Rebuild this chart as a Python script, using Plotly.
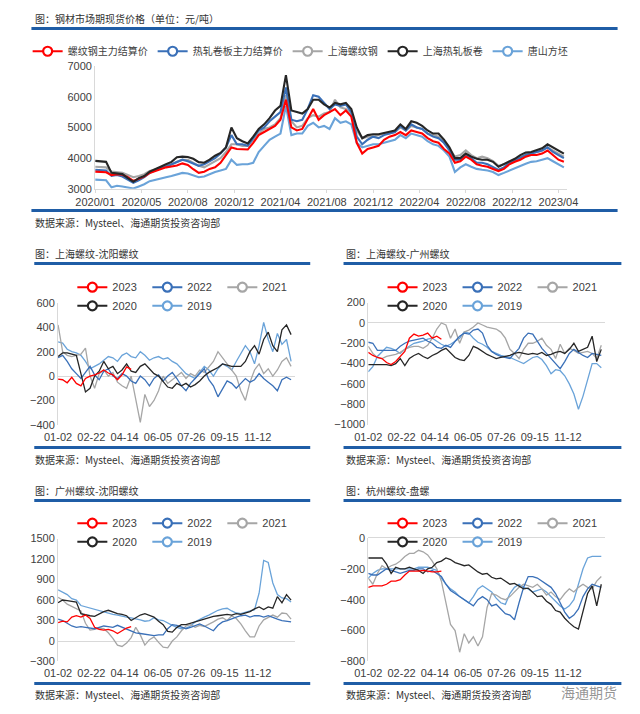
import plotly.graph_objects as go

W, H = 640, 714

# ------------------------------------------------------------------ data
# Top chart: samples every 2 weeks from 2020/01/02 (x unit = week)
TOP_STEP_WEEKS = 2
TOP_TICK_WEEKS = 17
top_tick_labels = ["2020/01", "2020/05", "2020/08", "2020/12", "2021/04", "2021/08",
                   "2021/12", "2022/04", "2022/08", "2022/12", "2023/04"]

rb_main_settle = [
    3560, 3560, 3540, 3450, 3480, 3460, 3380, 3260, 3330, 3400,
    3520, 3580, 3650, 3700, 3730, 3760, 3830, 3780, 3640, 3520,
    3560, 3650, 3700, 3850, 4100, 4350, 4300, 4300, 4280, 4500,
    4750, 4850, 4950, 5050, 5250, 5900, 5000, 4900, 4950, 5300,
    5600, 5250, 5400, 5500, 5600, 5400, 5550, 5350, 4500, 4150,
    4300, 4350, 4400, 4600, 4700, 4750, 4850, 4750, 4900, 4850,
    4800, 4650, 4550, 4500, 4300, 4150, 3850, 3900, 4050, 3950,
    3800, 3750, 3720, 3650, 3580, 3650, 3800, 3880, 3950, 4050,
    4100, 4100, 4150, 4250, 4100, 3950, 3880]
hc_main_settle = [
    3620, 3620, 3600, 3420, 3450, 3400, 3300, 3200, 3280, 3380,
    3520, 3600, 3680, 3720, 3800, 3880, 3950, 3900, 3820, 3750,
    3800, 3900, 4000, 4150, 4350, 4750, 4450, 4450, 4400, 4650,
    4900, 5000, 5200, 5350, 5500, 6300, 5250, 5200, 5250, 5600,
    6050, 6000, 5800, 5600, 5750, 5700, 5750, 5500, 4700, 4450,
    4600, 4700, 4650, 4750, 4800, 4850, 5050, 4900, 5100, 5000,
    4950, 4800, 4700, 4650, 4500, 4250, 3950, 3950, 4100, 4000,
    3850, 3850, 3800, 3720, 3620, 3700, 3850, 3920, 4000, 4100,
    4150, 4200, 4250, 4350, 4200, 4100, 4000]
sh_rebar = [
    3720, 3720, 3700, 3560, 3530, 3520, 3450, 3380, 3420, 3480,
    3580, 3620, 3680, 3750, 3800, 3880, 3950, 3950, 3850, 3750,
    3700, 3800, 3900, 4000, 4200, 4450, 4450, 4400, 4400, 4600,
    4800, 4950, 5000, 5100, 5300, 6050, 5200, 5000, 5050, 5300,
    5400, 5350, 5450, 5500, 5900, 5650, 5600, 5450, 4900, 4650,
    4700, 4700, 4750, 4800, 4800, 4850, 5000, 4900, 5050, 5000,
    4950, 4800, 4750, 4700, 4500, 4300, 4050, 4100, 4250, 4100,
    4000, 4050, 4000, 3900, 3750, 3800, 3900, 3950, 4050, 4100,
    4150, 4200, 4250, 4350, 4250, 4150, 4050]
sh_hrc = [
    3910, 3900, 3880, 3520, 3510, 3480, 3350, 3230, 3350, 3420,
    3560, 3650, 3720, 3800, 3880, 4030, 4050, 4040, 3980, 3870,
    3850, 3950, 4080, 4170, 4350, 5000, 4650, 4550, 4480, 4700,
    4950, 5100, 5300, 5550, 5700, 6700, 5550, 5500, 5450, 5600,
    5900, 5900, 5750, 5650, 5800, 5750, 5800, 5600, 5000, 4650,
    4750, 4780, 4780, 4820, 4850, 4900, 5100, 4950, 5200, 5150,
    5050, 4900, 4800, 4800, 4600, 4350, 4000, 4000, 4150, 4050,
    3980, 3950, 3950, 3880, 3720, 3800, 3900, 3980, 4100, 4180,
    4200, 4250, 4320, 4450, 4350, 4250, 4150]
ts_billet = [
    3300, 3300, 3280, 3050, 3100, 3080, 3050, 3010, 3080, 3150,
    3250, 3300, 3350, 3380, 3420, 3480, 3520, 3500, 3430, 3380,
    3400, 3480, 3550, 3600, 3650, 3950, 3780, 3800, 3800, 3850,
    4200, 4400, 4600, 4700, 4800, 5700, 4750, 4800, 4800, 5050,
    5150, 5000, 5050, 4950, 5300, 5150, 5200, 5100, 4500, 4350,
    4400, 4450, 4450, 4500, 4550, 4600, 4750, 4650, 4800, 4750,
    4700, 4550, 4450, 4400, 4250, 4050, 3550, 3700, 3800, 3720,
    3650, 3620, 3600, 3550, 3450, 3520, 3600, 3680, 3750, 3820,
    3880, 3900, 3950, 4000, 3900, 3800, 3700]

# Seasonal panels: weekly samples from 01-02 (x unit = day)
SEASON_STEP_DAYS = 7
SEASON_TICK_DAYS = 51
season_tick_labels = ["01-02", "02-22", "04-14", "06-05", "07-26", "09-15", "11-12"]
years = ["2023", "2022", "2021", "2020", "2019"]

# 上海螺纹-沈阳螺纹
p1_2023 = [-25, -30, -55, -10, -60, -80, -20, 0, 10, 25, 50, 25, 10, -30, 10, 75, 55]
p1_2022 = [150, 170, 120, 60, 20, -20, 30, 80, 10, -30,
           40, 60, 0, -20, 20, 0, -40, -60, 0, -30,
           -80, -20, 10, -40, 0, 30, -20, -80, -120, -60,
           -20, 20, 60, -30, -80, -170, -100, -40, -60, -100,
           -60, -20, -50, -30, 20, -20, -50, -80, -120, -30,
           -10, -30]
p1_2021 = [420, 200, 170, 160, 170, 180, 230, 0, -100, 20,
           50, 0, 30, -50, -80, -100, 0, -200, -380, -150,
           -250, -200, -120, 0, -60, -30, 0, 30, -20, 20,
           0, 50, 30, 80, 120, 200, 150, 100, 60, 0,
           -120, -200, -50, 50, 100, 20, 60, 0, 50, 120,
           150, 80]
p1_2020 = [160, 190, 190, 180, 170, 20, -130, -100, 0, 40,
           120, 60, 80, 20, 50, 100, 40, 30, 80, 100,
           60, 20, 0, -50, -90, -100, -60, -80, -60, -90,
           -70, -40, 0, 30, 50, 70, 100, 90, 80, 80,
           80, 120, 200, 250, 180, 300, 360, 250, 200, 380,
           420, 340]
p1_2019 = [280, 270, 220, 200, 190, 170, 120, 60, 80, 100,
           130, 160, 150, 120, 170, 190, 160, 150, 200, 170,
           130, 150, 160, 140, 150, 120, 100, 60, 20, 0,
           -20, 30, 80, 50, 0, 60, 100, 80, 50, 120,
           180, 250, 200, 100, 250, 440, 300, 200, 350, 260,
           300, 120]

# 上海螺纹-广州螺纹
p2_2023 = [-290, -320, -340, -350, -390, -410, -380, -330, -280, -150,
           -110, -130, -120, -100, -150, -130, -160]
p2_2022 = [-190, -200, -270, -270, -270, -270, -270, -230, -200, -180,
           -170, -160, -150, -180, -200, -240, -250, -220, -240, -180,
           -130, -100, -110, -70, -60, -100, -220, -280, -310, -330,
           -340, -350, -300, -250, -150, -100, -110, -180, -250, -300,
           -350, -400, -450, -380, -300, -260, -290, -320, -340, -300,
           -310, -320]
p2_2021 = [-230, -300, -340, -350, -330, -320, -310, -290, -260, -240,
           -230, -230, -250, -220, -150, -60, 0, -20, -150, -60,
           -200, -90, -70, -40, 0, -20, -40, -50, -60, -90,
           -150, -260, -300, -350, -260, -200, -200, -180, -150, -220,
           -260, -350, -210, -300, -250, -270, -300, -290, -280, -300,
           -350, -220]
p2_2020 = [-410, -410, -410, -410, -410, -420, -400, -350, -420, -350,
           -320, -300, -330, -350, -320, -300, -270, -250, -300, -340,
           -360, -370, -320, -230, -250, -280, -310, -330, -350, -340,
           -330, -320, -300, -290, -300, -310, -300, -310, -290, -320,
           -310, -290, -280, -300, -260, -200, -280, -260, -240, -130,
           -380, -260]
p2_2019 = [-480, -430, -330, -280, -240, -250, -270, -300, -260, -230,
           -200, -190, -180, -160, -150, -180, -210, -230, -210, -180,
           -150, -90, -100, -150, -190, -210, -240, -280, -300, -320,
           -330, -340, -360, -380, -400, -370, -340, -330, -360, -420,
           -500, -460, -470, -520, -600, -700, -850, -720, -550, -400,
           -400, -440]

# 广州螺纹-沈阳螺纹
p3_2023 = [270, 290, 280, 350, 370, 350, 380, 330, 200, 170, 160, 170, 150, 110, 150, 190, 210]
p3_2022 = [320, 300, 260, 220, 200, 210, 200, 190, 180, 200,
           220, 210, 200, 230, 200, 170, 150, 120, 110, 100,
           90, 80, 90, 90, 180, 240, 230, 200, 180, 200,
           230, 250, 220, 180, 150, 230, 280, 300, 330, 350,
           370, 380, 350, 370, 370, 350, 370, 340, 320, 300,
           290, 280]
p3_2021 = [640, 600, 540, 510, 480, 440, 260, 160, 170, 190,
           180, 120, 40, -60, -80, -30, 50, 200, 90, -60,
           20, 60, -20, -90, -100, 0, 60, 150, 220, 240,
           200, 230, 210, 240, 280, 320, 340, 300, 370, 330,
           250, 150, 60, 60, 220, 310, 350, 380, 350, 410,
           400, 320]
p3_2020 = [560, 600, 590, 580, 570, 400, 380, 370, 360, 400,
           430, 450, 420, 400, 390, 370, 300, 340, 380, 400,
           380, 350, 290, 240, 140, 130, 200, 240, 240, 260,
           290, 310, 330, 340, 360, 370, 380, 390, 380, 400,
           390, 410, 430, 470, 500, 460, 500, 480, 650, 560,
           680, 600]
p3_2019 = [750, 720, 680, 620, 600, 520, 500, 480, 460, 440,
           420, 400, 390, 380, 360, 350, 340, 330, 310, 290,
           300, 340, 310, 300, 260, 230, 200, 180, 190, 220,
           280, 320, 350, 380, 420, 450, 470, 480, 440, 410,
           400, 420, 440, 460, 700, 1180, 1150, 850, 680, 630,
           620, 570]

# 杭州螺纹-盘螺
p4_2023 = [-320, -310, -310, -310, -300, -280, -280, -270, -240, -215,
           -215, -215, -210, -215, -220, -220, -215]
p4_2022 = [-230, -240, -240, -220, -200, -210, -220, -230, -220, -210,
           -210, -200, -200, -220, -210, -230, -250, -300, -340, -360,
           -380, -400, -420, -440, -400, -380, -400, -440, -430, -460,
           -490, -500, -530, -420, -320, -250, -250, -260, -280, -300,
           -320, -360, -420, -480, -520, -500, -460, -380, -330, -300,
           -310, -320]
p4_2021 = [-260, -300, -230, -180, -200, -180, -170, -150, -120, -100,
           -100, -80, -90, -110, -150, -200, -280, -420, -560, -600,
           -740, -620, -680, -640, -700, -640, -450, -360, -370, -390,
           -400, -380, -350, -320, -300, -310, -320, -300, -330, -370,
           -350, -380, -400, -360, -330, -350, -320, -300, -320, -330,
           -280, -250]
p4_2020 = [-130, -130, -130, -130, -170, -230, -190, -200, -200, -190,
           -200, -210, -230, -200, -190, -160, -150, -130, -140, -160,
           -170, -180, -175, -200, -220, -235, -230, -255, -265, -260,
           -280, -300, -295, -310, -330, -325, -350, -380, -375, -410,
           -430, -470, -480, -520, -550, -575, -590, -480, -360, -310,
           -440, -300]
p4_2019 = [-260, -230, -210, -200, -200, -200, -200, -200, -200, -200,
           -200, -190, -190, -190, -200, -210, -260, -300, -330, -350,
           -380, -400, -420, -380, -330, -310, -330, -350, -390, -420,
           -430, -360, -320, -300, -320, -330, -350, -340, -330, -350,
           -380, -410, -440, -460, -440, -400, -300, -200, -130, -120,
           -120, -120]

# ------------------------------------------------------------------ style
C_RED, C_BLUE, C_GRAY, C_BLACK, C_LBLUE = "#FF0000", "#3A70B8", "#A6A6A6", "#262626", "#6AA3D9"
SEP_BLUE = "#1F5DA6"
AX_LINE = "#D9D9D9"
TXT = "#404040"
CJK = "Noto Sans CJK SC"
NUM = "Liberation Sans, Noto Sans CJK SC"
SRC = "数据来源：Mysteel、海通期货投资咨询部"


def fx(p):
    return p / W


def fy(p):
    return 1 - p / H


fig = go.Figure()


def legend_entry(name, color, legend, xa, ya):
    fig.add_trace(go.Scatter(
        x=[None], y=[None], mode="lines+markers", name=name, legend=legend,
        xaxis=xa, yaxis=ya, hoverinfo="skip",
        line=dict(color=color, width=2),
        marker=dict(symbol="circle", size=9, color="white", line=dict(color=color, width=2.2))))


# ---- top chart
top_series = [("螺纹钢主力结算价", rb_main_settle, C_RED),
              ("热轧卷板主力结算价", hc_main_settle, C_BLUE),
              ("上海螺纹钢", sh_rebar, C_GRAY),
              ("上海热轧板卷", sh_hrc, C_BLACK),
              ("唐山方坯", ts_billet, C_LBLUE)]
draw_order = [4, 2, 1, 0, 3]
for k in draw_order:
    name, vals, col = top_series[k]
    fig.add_trace(go.Scatter(
        x=[TOP_STEP_WEEKS * i for i in range(len(vals))], y=vals, mode="lines",
        line=dict(color=col, width=2.1), showlegend=False, xaxis="x", yaxis="y", name=name))
for name, vals, col in top_series:
    legend_entry(name, col, "legend", "x", "y")

# ---- seasonal panels
year_colors = {"2023": C_RED, "2022": C_BLUE, "2021": C_GRAY, "2020": C_BLACK, "2019": C_LBLUE}
panels = [
    {"2023": p1_2023, "2022": p1_2022, "2021": p1_2021, "2020": p1_2020, "2019": p1_2019},
    {"2023": p2_2023, "2022": p2_2022, "2021": p2_2021, "2020": p2_2020, "2019": p2_2019},
    {"2023": p3_2023, "2022": p3_2022, "2021": p3_2021, "2020": p3_2020, "2019": p3_2019},
    {"2023": p4_2023, "2022": p4_2022, "2021": p4_2021, "2020": p4_2020, "2019": p4_2019},
]
season_draw = ["2019", "2021", "2022", "2020", "2023"]
for pi, pdata in enumerate(panels):
    xa, ya = "x%d" % (pi + 2), "y%d" % (pi + 2)
    for yr in season_draw:
        vals = pdata[yr]
        fig.add_trace(go.Scatter(
            x=[SEASON_STEP_DAYS * i for i in range(len(vals))], y=vals, mode="lines",
            line=dict(color=year_colors[yr], width=1.3), showlegend=False,
            xaxis=xa, yaxis=ya, name=yr))
    l_row1, l_row2 = "legend%d" % (2 * pi + 2), "legend%d" % (2 * pi + 3)
    for yr in years[:3]:
        legend_entry(yr, year_colors[yr], l_row1, xa, ya)
    for yr in years[3:]:
        legend_entry(yr, year_colors[yr], l_row2, xa, ya)

# ---- axes
tickfont = dict(family=NUM, size=11, color=TXT)
layout = dict(
    width=W, height=H, margin=dict(l=0, r=0, t=0, b=0),
    paper_bgcolor="white", plot_bgcolor="white",
    font=dict(family=NUM, size=11, color=TXT),
    xaxis=dict(domain=[fx(79), fx(575)], range=[0, 173.2], anchor="y",
               tickmode="array", tickvals=[TOP_TICK_WEEKS * i for i in range(len(top_tick_labels))],
               ticktext=top_tick_labels, showgrid=False, zeroline=False,
               showline=True, linecolor=AX_LINE, ticks="outside", ticklen=3, tickcolor=AX_LINE,
               tickfont=tickfont, fixedrange=True),
    yaxis=dict(domain=[fy(186), fy(61)], range=[3000, 7000], dtick=1000, anchor="x",
               showgrid=False, zeroline=False, showline=True, linecolor=AX_LINE,
               tickfont=tickfont, fixedrange=True),
)

panel_geo = [  # (x_left_px, x_right_px, y_top_px, y_bottom_px, yrange, dtick)
    (40, 289, 302, 426, [-400, 600], 200),
    (366, 615, 301.7, 425.7, [-1000, 200], 200),
    (40, 289, 541.7, 666.7, [-300, 1500], 300),
    (366, 615, 541, 666.7, [-800, 0], 200),
]
for pi, (xl, xr, yt, yb, yr_, dt) in enumerate(panel_geo):
    n = pi + 2
    layout["xaxis%d" % n] = dict(
        domain=[fx(xl), fx(xr)], range=[0, 363], anchor="y%d" % n,
        tickmode="array", tickvals=[SEASON_TICK_DAYS * i for i in range(len(season_tick_labels))],
        ticktext=season_tick_labels, showgrid=False, zeroline=False, showline=False,
        ticks="", ticklabelstandoff=4, tickfont=tickfont, fixedrange=True)
    layout["yaxis%d" % n] = dict(
        domain=[fy(yb), fy(yt)], range=yr_, dtick=dt, anchor="x%d" % n,
        showgrid=False, zeroline=True, zerolinecolor=AX_LINE, zerolinewidth=1,
        showline=True, linecolor=AX_LINE, tickfont=tickfont, fixedrange=True)

# ---- legends
leg_common = dict(orientation="h", bgcolor="rgba(0,0,0,0)", yanchor="middle",
                  itemclick=False, itemdoubleclick=False)
layout["legend"] = dict(leg_common, x=0.46, xanchor="center", y=fy(46),
                        font=dict(family=CJK, size=10, color=TXT))
leg_pos = [(55, 286, 305), (381, 286, 305), (55, 526, 545), (381, 526, 545)]
for pi, (lx, r1, r2) in enumerate(leg_pos):
    for j, ry in enumerate((r1, r2)):
        layout["legend%d" % (2 * pi + 2 + j)] = dict(
            leg_common, x=fx(lx), xanchor="left", y=fy(ry), entrywidth=30,
            font=dict(family=NUM, size=11, color=TXT))

# ---- separator lines and texts
shapes = []
for (x0, x1, y) in [(12, 628, 23), (12, 628, 208),
                    (15, 305, 262), (15, 305, 449), (340, 632, 262), (340, 632, 449),
                    (15, 305, 503), (15, 305, 689), (340, 632, 503), (340, 632, 689)]:
    shapes.append(dict(type="line", xref="paper", yref="paper", x0=fx(x0), x1=fx(x1),
                       y0=fy(y), y1=fy(y), line=dict(color=SEP_BLUE, width=3)))
layout["shapes"] = shapes

texts = [("图：钢材市场期现货价格（单位：元/吨）", 14, 13),
         (SRC, 14, 220),
         ("图：上海螺纹-沈阳螺纹", 14, 252), (SRC, 14, 461),
         ("图：上海螺纹-广州螺纹", 340, 252), (SRC, 340, 461),
         ("图：广州螺纹-沈阳螺纹", 14, 493), (SRC, 14, 700),
         ("图：杭州螺纹-盘螺", 340, 493), (SRC, 340, 700)]
annotations = []
for t, x, y in texts:
    annotations.append(dict(text=t, xref="paper", yref="paper", x=fx(x), y=fy(y),
                            xanchor="left", yanchor="middle", showarrow=False,
                            font=dict(family=CJK, size=10, color="#333333")))
annotations.append(dict(text="海通期货", xref="paper", yref="paper", x=fx(598), y=fy(698),
                        xanchor="center", yanchor="middle", showarrow=False,
                        font=dict(family=CJK, size=14, color="rgba(130,130,130,0.85)")))
layout["annotations"] = annotations

fig.update_layout(**layout)
fig.write_html("out.html", config={"displayModeBar": False, "staticPlot": False},
               post_script="document.body.style.margin='0';document.body.style.padding='0';")
